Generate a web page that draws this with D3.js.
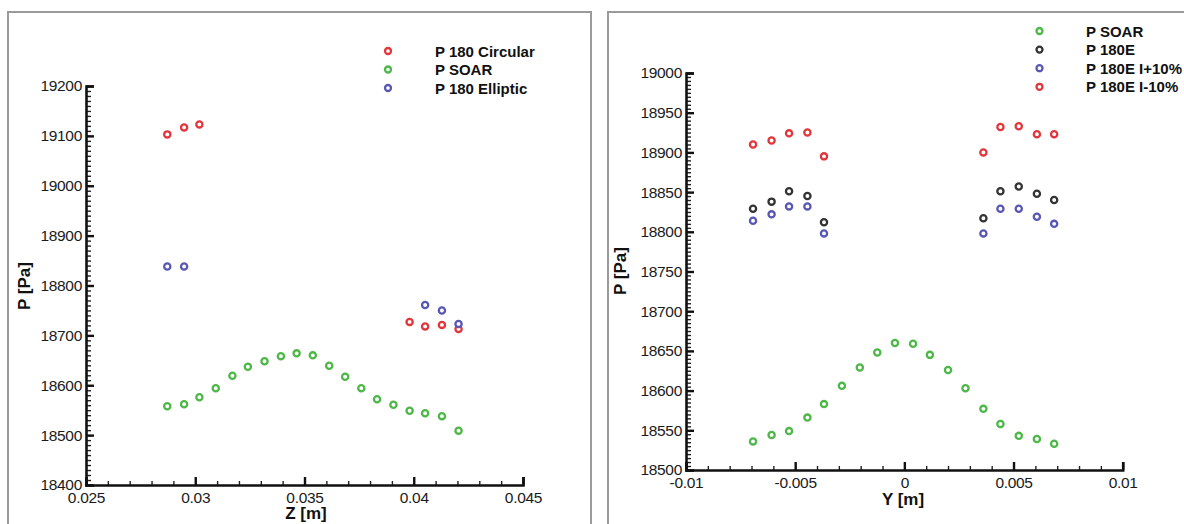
<!DOCTYPE html>
<html>
<head>
<meta charset="utf-8">
<script src="https://cdn.jsdelivr.net/npm/d3@7"></script>
<style>
  body { margin: 0; background: #fff; }
  svg { display: block; font-family: "Liberation Sans", Arial, sans-serif; }
  .tick text { font-size: 15.5px; fill: #1a1a1a; letter-spacing: -0.3px; }
  .title { font-size: 17px; font-weight: bold; fill: #111; }
  .legend text { font-size: 15px; font-weight: bold; fill: #111; }
</style>
</head>
<body>
<svg width="1184" height="524"></svg>
<script>
// left chart: P vs Z
const zSoar = [0.02872, 0.02949, 0.03019, 0.03094, 0.0317, 0.03241, 0.03317, 0.03392, 0.03464, 0.03538,
  0.03613, 0.03686, 0.0376, 0.03832, 0.03907, 0.03981, 0.04052, 0.04129, 0.04205];
const pSoarZ = [18558, 18562, 18576, 18594, 18619, 18637, 18648, 18658, 18664, 18660,
  18639, 18617, 18594, 18572, 18561, 18549, 18544, 18538, 18509];
const zCirc = [0.02872, 0.02949, 0.03019, 0.03981, 0.04052, 0.04129, 0.04205];
const pCirc = [19103, 19117, 19123, 18727, 18718, 18721, 18713];
const zEll = [0.02872, 0.02949, 0.04052, 0.04129, 0.04205];
const pEll = [18838, 18838, 18761, 18750, 18723];

const zTicks = [0.025, 0.03, 0.035, 0.04, 0.045];
const zTickLabels = ['0.025', '0.03', '0.035', '0.04', '0.045'];
const pTicksL = [18400, 18500, 18600, 18700, 18800, 18900, 19000, 19100, 19200];

// right chart: P vs Y
const ySoar = [-0.00693, -0.00608, -0.00528, -0.00444, -0.00368, -0.00286, -0.00204, -0.00124, -0.00043,
  0.0004, 0.00117, 0.002, 0.0028, 0.00362, 0.0044, 0.00524, 0.00607, 0.00686];
const pSoarY = [18536, 18544, 18549, 18566, 18583, 18606, 18629, 18648, 18660,
  18659, 18645, 18626, 18603, 18577, 18558, 18543, 18539, 18533];
const yE = [-0.00693, -0.00608, -0.00528, -0.00444, -0.00368, 0.00362, 0.0044, 0.00524, 0.00607, 0.00686];
const p180E = [18829, 18838, 18851, 18845, 18812, 18817, 18851, 18857, 18848, 18840];
const pPlus10 = [18814, 18822, 18832, 18832, 18798, 18798, 18829, 18829, 18819, 18810];
const pMinus10 = [18910, 18915, 18924, 18925, 18895, 18900, 18932, 18933, 18923, 18923];

const yTicks = [-0.01, -0.005, 0, 0.005, 0.01];
const yTickLabels = ['-0.01', '-0.005', '0', '0.005', '0.01'];
const pTicksR = [18500, 18550, 18600, 18650, 18700, 18750, 18800, 18850, 18900, 18950, 19000];

const RED = '#e2363c', GREEN = '#4db848', BLUE = '#5858b4', BLACK = '#333';

const svg = d3.select('svg');

svg.append('rect').attr('x', 8).attr('y', 12).attr('width', 583).attr('height', 600)
  .attr('fill', 'none').attr('stroke', '#9a9a9a').attr('stroke-width', 2);
svg.append('rect').attr('x', 608).attr('y', 12).attr('width', 600).attr('height', 600)
  .attr('fill', 'none').attr('stroke', '#9a9a9a').attr('stroke-width', 2);

function drawPanel(o) {
  const g = svg.append('g');

  // minor ticks first
  g.append('g').attr('transform', `translate(0,${o.y.range()[0]})`)
    .call(d3.axisBottom(o.x).tickValues(o.xMinor).tickSize(-4).tickFormat(''))
    .call(a => a.select('.domain').remove())
    .selectAll('line').attr('stroke', '#222').attr('stroke-width', 1.4);
  g.append('g').attr('transform', `translate(${o.x.range()[0]},0)`)
    .call(d3.axisLeft(o.y).tickValues(o.yMinor).tickSize(-5).tickFormat(''))
    .call(a => a.select('.domain').remove())
    .selectAll('line').attr('stroke', '#222').attr('stroke-width', 1.4);

  const xa = g.append('g').attr('transform', `translate(0,${o.y.range()[0]})`)
    .call(d3.axisBottom(o.x).tickValues(o.xTicks).tickFormat((d, i) => o.xLabels[i])
      .tickSizeInner(-8).tickSizeOuter(-8).tickPadding(6.5));
  const ya = g.append('g').attr('transform', `translate(${o.x.range()[0]},0)`)
    .call(d3.axisLeft(o.y).tickValues(o.yTicks).tickFormat(d => String(d))
      .tickSizeInner(-8).tickSizeOuter(-8).tickPadding(4));
  [xa, ya].forEach(a => {
    a.select('.domain').attr('stroke', '#111').attr('stroke-width', 2.6);
    a.selectAll('.tick line').attr('stroke', '#111').attr('stroke-width', 2.4);
    a.selectAll('.tick text').attr('font-family', null).attr('font-size', null);
  });

  g.append('text').attr('class', 'title')
    .attr('x', o.xTitlePos[0]).attr('y', o.xTitlePos[1])
    .attr('text-anchor', 'middle').attr('dominant-baseline', 'central')
    .text(o.xTitle);
  g.append('text').attr('class', 'title')
    .attr('transform', `translate(${o.yTitlePos[0]},${o.yTitlePos[1]}) rotate(-90)`)
    .attr('text-anchor', 'middle').attr('dominant-baseline', 'central')
    .text('P [Pa]');

  o.series.forEach(s => {
    g.append('g').selectAll('circle')
      .data(s.xs.map((v, i) => [v, s.ps[i]]))
      .enter()
      .append('circle')
      .attr('cx', d => o.x(d[0]))
      .attr('cy', d => o.y(d[1]))
      .attr('r', 3.1)
      .attr('fill', '#fff')
      .attr('stroke', s.color)
      .attr('stroke-width', 2.3);
  });

  const leg = g.append('g').attr('class', 'legend')
    .selectAll('g')
    .data(o.legend)
    .enter()
    .append('g')
    .attr('transform', (d, i) => `translate(${o.legendPos[0]},${o.legendPos[1] + i * o.legendStep})`);
  leg.append('circle').attr('r', 3).attr('fill', '#fff')
    .attr('stroke', d => d.color).attr('stroke-width', 2.3);
  leg.append('text').attr('x', o.legendTextDx).attr('dominant-baseline', 'central')
    .text(d => d.name);
}

const left = {
  x: d3.scaleLinear().domain([0.025, 0.045]).range([86, 523]),
  y: d3.scaleLinear().domain([18400, 19200]).range([485, 86]),
  xTicks: zTicks, xLabels: zTickLabels,
  xMinor: d3.range(21).map(i => 0.025 + i * 0.001),
  yTicks: pTicksL,
  yMinor: d3.range(81).map(i => 18400 + i * 10),
  xTitle: 'Z [m]', xTitlePos: [306, 513], yTitlePos: [24, 286],
  series: [
    { xs: zCirc, ps: pCirc, color: RED },
    { xs: zSoar, ps: pSoarZ, color: GREEN },
    { xs: zEll, ps: pEll, color: BLUE }
  ],
  legend: [
    { name: 'P 180 Circular', color: RED },
    { name: 'P SOAR', color: GREEN },
    { name: 'P 180 Elliptic', color: BLUE }
  ],
  legendPos: [388, 51], legendStep: 18.5, legendTextDx: 47
};

const right = {
  x: d3.scaleLinear().domain([-0.01, 0.01]).range([686, 1122.7]),
  y: d3.scaleLinear().domain([18500, 19000]).range([470, 73]),
  xTicks: yTicks, xLabels: yTickLabels,
  xMinor: d3.range(21).map(i => -0.01 + i * 0.001),
  yTicks: pTicksR,
  yMinor: d3.range(101).map(i => 18500 + i * 5),
  xTitle: 'Y [m]', xTitlePos: [903, 499], yTitlePos: [620, 271],
  series: [
    { xs: ySoar, ps: pSoarY, color: GREEN },
    { xs: yE, ps: p180E, color: BLACK },
    { xs: yE, ps: pPlus10, color: BLUE },
    { xs: yE, ps: pMinus10, color: RED }
  ],
  legend: [
    { name: 'P SOAR', color: GREEN },
    { name: 'P 180E', color: BLACK },
    { name: 'P 180E I+10%', color: BLUE },
    { name: 'P 180E I-10%', color: RED }
  ],
  legendPos: [1039.5, 31], legendStep: 18.6, legendTextDx: 46.5
};

drawPanel(left);
drawPanel(right);
</script>
</body>
</html>
